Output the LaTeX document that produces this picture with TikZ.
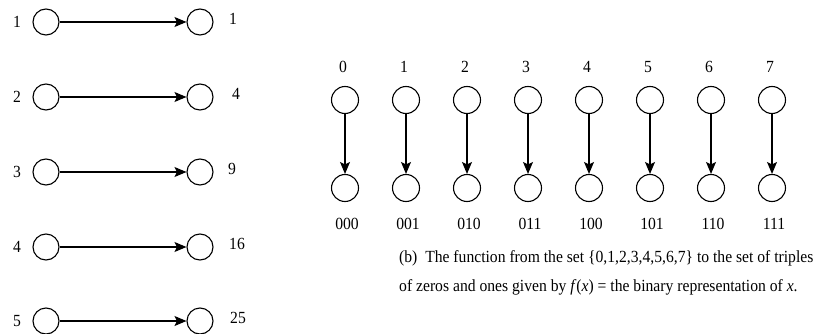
\documentclass[tikz,border=0pt]{standalone}
\usepackage{fontspec}
\setmainfont{Liberation Serif}[FakeStretch=0.92]
\usetikzlibrary{arrows.meta}
\begin{document}
\begin{tikzpicture}[x=1pt,y=-1pt,
  dot/.style={circle,draw,line width=1.1pt,minimum size=26pt,inner sep=0pt},
  lab/.style={font=\fontsize{17}{20}\selectfont,inner sep=0pt},
  arr/.style={line width=1.1pt,-{Stealth[length=12pt,width=10pt,inset=2.5pt]}}]
\useasboundingbox (0,0) rectangle (818,334);
% left part
\foreach \i/\y/\a/\b/\bx in {1/22/1/1/233,2/97/2/4/236,3/172/3/9/232,4/247/4/16/237,5/321/5/25/238}{
  \node[dot] (L\i) at (46,\y) {};
  \node[dot] (R\i) at (200,\y) {};
  \node[lab] (la\i) at (17,\y) {\a};
  \node[lab] (lb\i) at (\bx,\y-3) {\b};
  \draw[arr] (L\i) -- (R\i);
}
% right part
\foreach \i/\c in {0/000,1/001,2/010,3/011,4/100,5/101,6/110,7/111}{
  \node[dot,minimum size=27pt] (T\i) at (345+61*\i,100) {};
  \node[dot,minimum size=27pt] (B\i) at (345+61*\i,188) {};
  \node[lab] (tl\i) at (343+61*\i,67) {\i};
  \node[lab] (bl\i) at (347+61*\i,224) {\c};
  \draw[arr] (T\i) -- (B\i);
}
\node[lab,anchor=west] (cap1) at (399,258) {(b)\ \ The function from the set \{0,1,2,3,4,5,6,7\} to the set of triples};
\node[lab,anchor=west] (cap2) at (399,287) {of zeros and ones given by \textit{f}(\textit{x}) = the binary representation of \textit{x}.};
\end{tikzpicture}
\end{document}
